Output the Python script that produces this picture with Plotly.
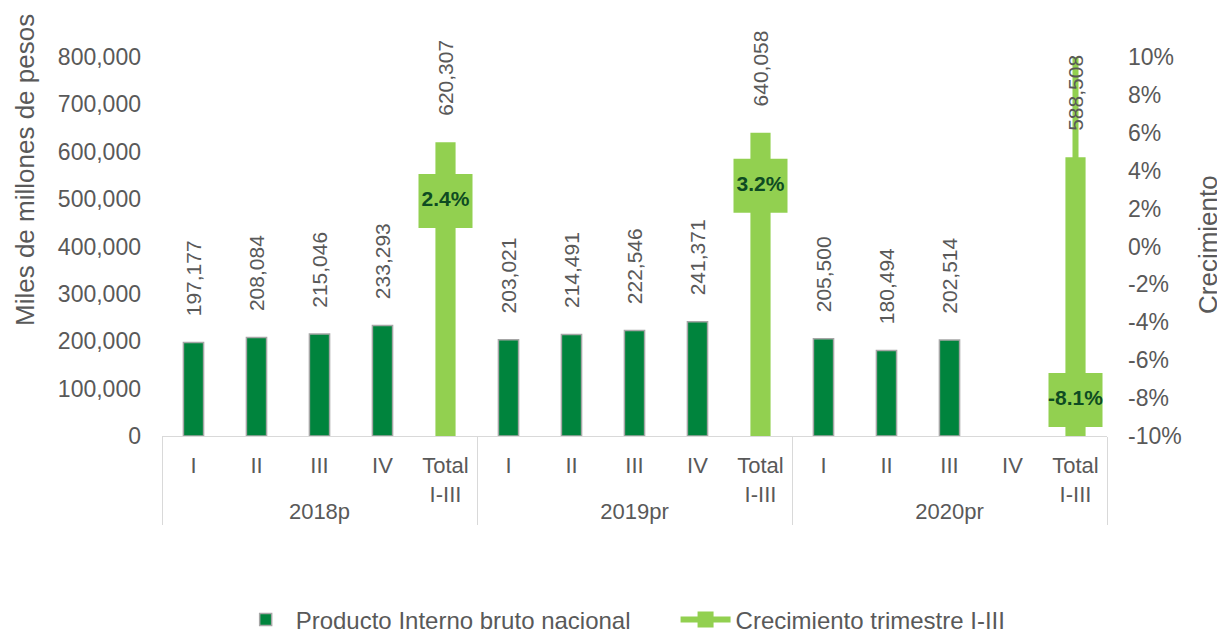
import plotly.graph_objects as go

years = ["2018p"] * 5 + ["2019pr"] * 5 + ["2020pr"] * 5
quarters = ["I", "II", "III", "IV", "Total<br>I-III"] * 3

pib = [197177, 208084, 215046, 233293, 620307,
       203021, 214491, 222546, 241371, 640058,
       205500, 180494, 202514, None, 588508]

growth = [None, None, None, None, 2.4,
          None, None, None, None, 3.2,
          None, None, None, None, -8.1]
growth_labels = ["" if g is None else f"{g:.1f}%" for g in growth]

# stray connector segment of the growth series at 2020pr total (runs off the top)
tail_x = [["2020pr", "2020pr"], ["Total<br>I-III", "Total<br>I-III"]]
tail_y = [-8.1, 12.0]

pct_ticks = list(range(-10, 11, 2))
pct_labels = [f"{v}%" for v in pct_ticks]

DARK = "#00843D"
LIGHT = "#92D050"
GREY = "#595959"
FONT = "Liberation Sans, Arial, sans-serif"
NB = "\u00a0"

bar_colors = [LIGHT if q.startswith("Total") else DARK for q in quarters]
bar_lines = ["rgba(0,0,0,0)" if q.startswith("Total") else "#a6a6a6" for q in quarters]

fig = go.Figure()
# GDP bars (left axis, drawn in the middle layer y2)
fig.add_trace(go.Bar(
    x=[years, quarters], y=pib, yaxis="y2",
    name="Producto Interno bruto nacional" + NB * 6,
    marker=dict(color=bar_colors, line=dict(color=bar_lines, width=1.5)),
    width=0.32,
    texttemplate=NB * 4 + "%{y:,.0f}",
    textposition="outside", textangle=-90, constraintext="none", cliponaxis=False,
    textfont=dict(size=21, color=GREY, family=FONT),
))
# growth connector (bottom layer, primary growth axis shown on the right)
fig.add_trace(go.Scatter(
    x=tail_x, y=tail_y, yaxis="y", mode="lines",
    line=dict(color=LIGHT, width=6), showlegend=False, hoverinfo="skip",
))
# growth markers with labels (top layer)
fig.add_trace(go.Scatter(
    x=[years, quarters], y=growth, yaxis="y3", name="Crecimiento trimestre I-III",
    mode="lines+markers+text", connectgaps=False,
    line=dict(color=LIGHT, width=6),
    marker=dict(symbol="square", size=54, color=LIGHT),
    text=growth_labels, textposition="middle center",
    textfont=dict(size=21, color="#0e4b22", family=FONT, weight="bold"),
    cliponaxis=False,
))

# page body adds an 8px margin, so the figure is 8px smaller and margins shifted
fig.update_layout(
    width=1217, height=625,
    margin=dict(l=154, r=118, t=49, b=197, autoexpand=False),
    paper_bgcolor="white", plot_bgcolor="white",
    font=dict(family=FONT, color=GREY, size=22),
    showlegend=True,
    legend=dict(orientation="h", x=0.488, xanchor="center", y=-0.485, yanchor="middle",
                font=dict(size=24, color=GREY, family=FONT), itemwidth=50,
                traceorder="normal"),
    xaxis=dict(type="multicategory", range=[-0.5, 14.5], autorange=False,
               showline=True, linecolor="#d9d9d9", linewidth=1,
               ticks="", showgrid=False, tickfont=dict(size=22, color=GREY),
               ticklabelstandoff=10,
               showdividers=True, dividercolor="#d9d9d9", dividerwidth=1),
    yaxis=dict(range=[-10, 10], tickvals=pct_ticks, ticktext=pct_labels, side="right",
               showgrid=False, zeroline=False, showline=False, ticks="",
               ticklabelstandoff=20, tickfont=dict(size=23, color=GREY)),
    yaxis2=dict(range=[0, 800000], dtick=100000, tickformat=",", overlaying="y", side="left",
                showgrid=False, zeroline=False, showline=False, ticks="",
                ticklabelstandoff=20, tickfont=dict(size=23, color=GREY)),
    yaxis3=dict(range=[-10, 10], overlaying="y", visible=False,
                showgrid=False, zeroline=False),
    annotations=[
        dict(text="Miles de millones de pesos", xref="paper", yref="paper",
             x=(25 - 162) / 945, y=(436 - 170) / 379, xanchor="center", yanchor="middle",
             textangle=-90, showarrow=False, font=dict(size=26, color=GREY, family=FONT)),
        dict(text="Crecimiento", xref="paper", yref="paper",
             x=(1208 - 162) / 945, y=(436 - 245) / 379, xanchor="center", yanchor="middle",
             textangle=-90, showarrow=False, font=dict(size=26, color=GREY, family=FONT)),
    ],
)

fig.write_html("out.html")
